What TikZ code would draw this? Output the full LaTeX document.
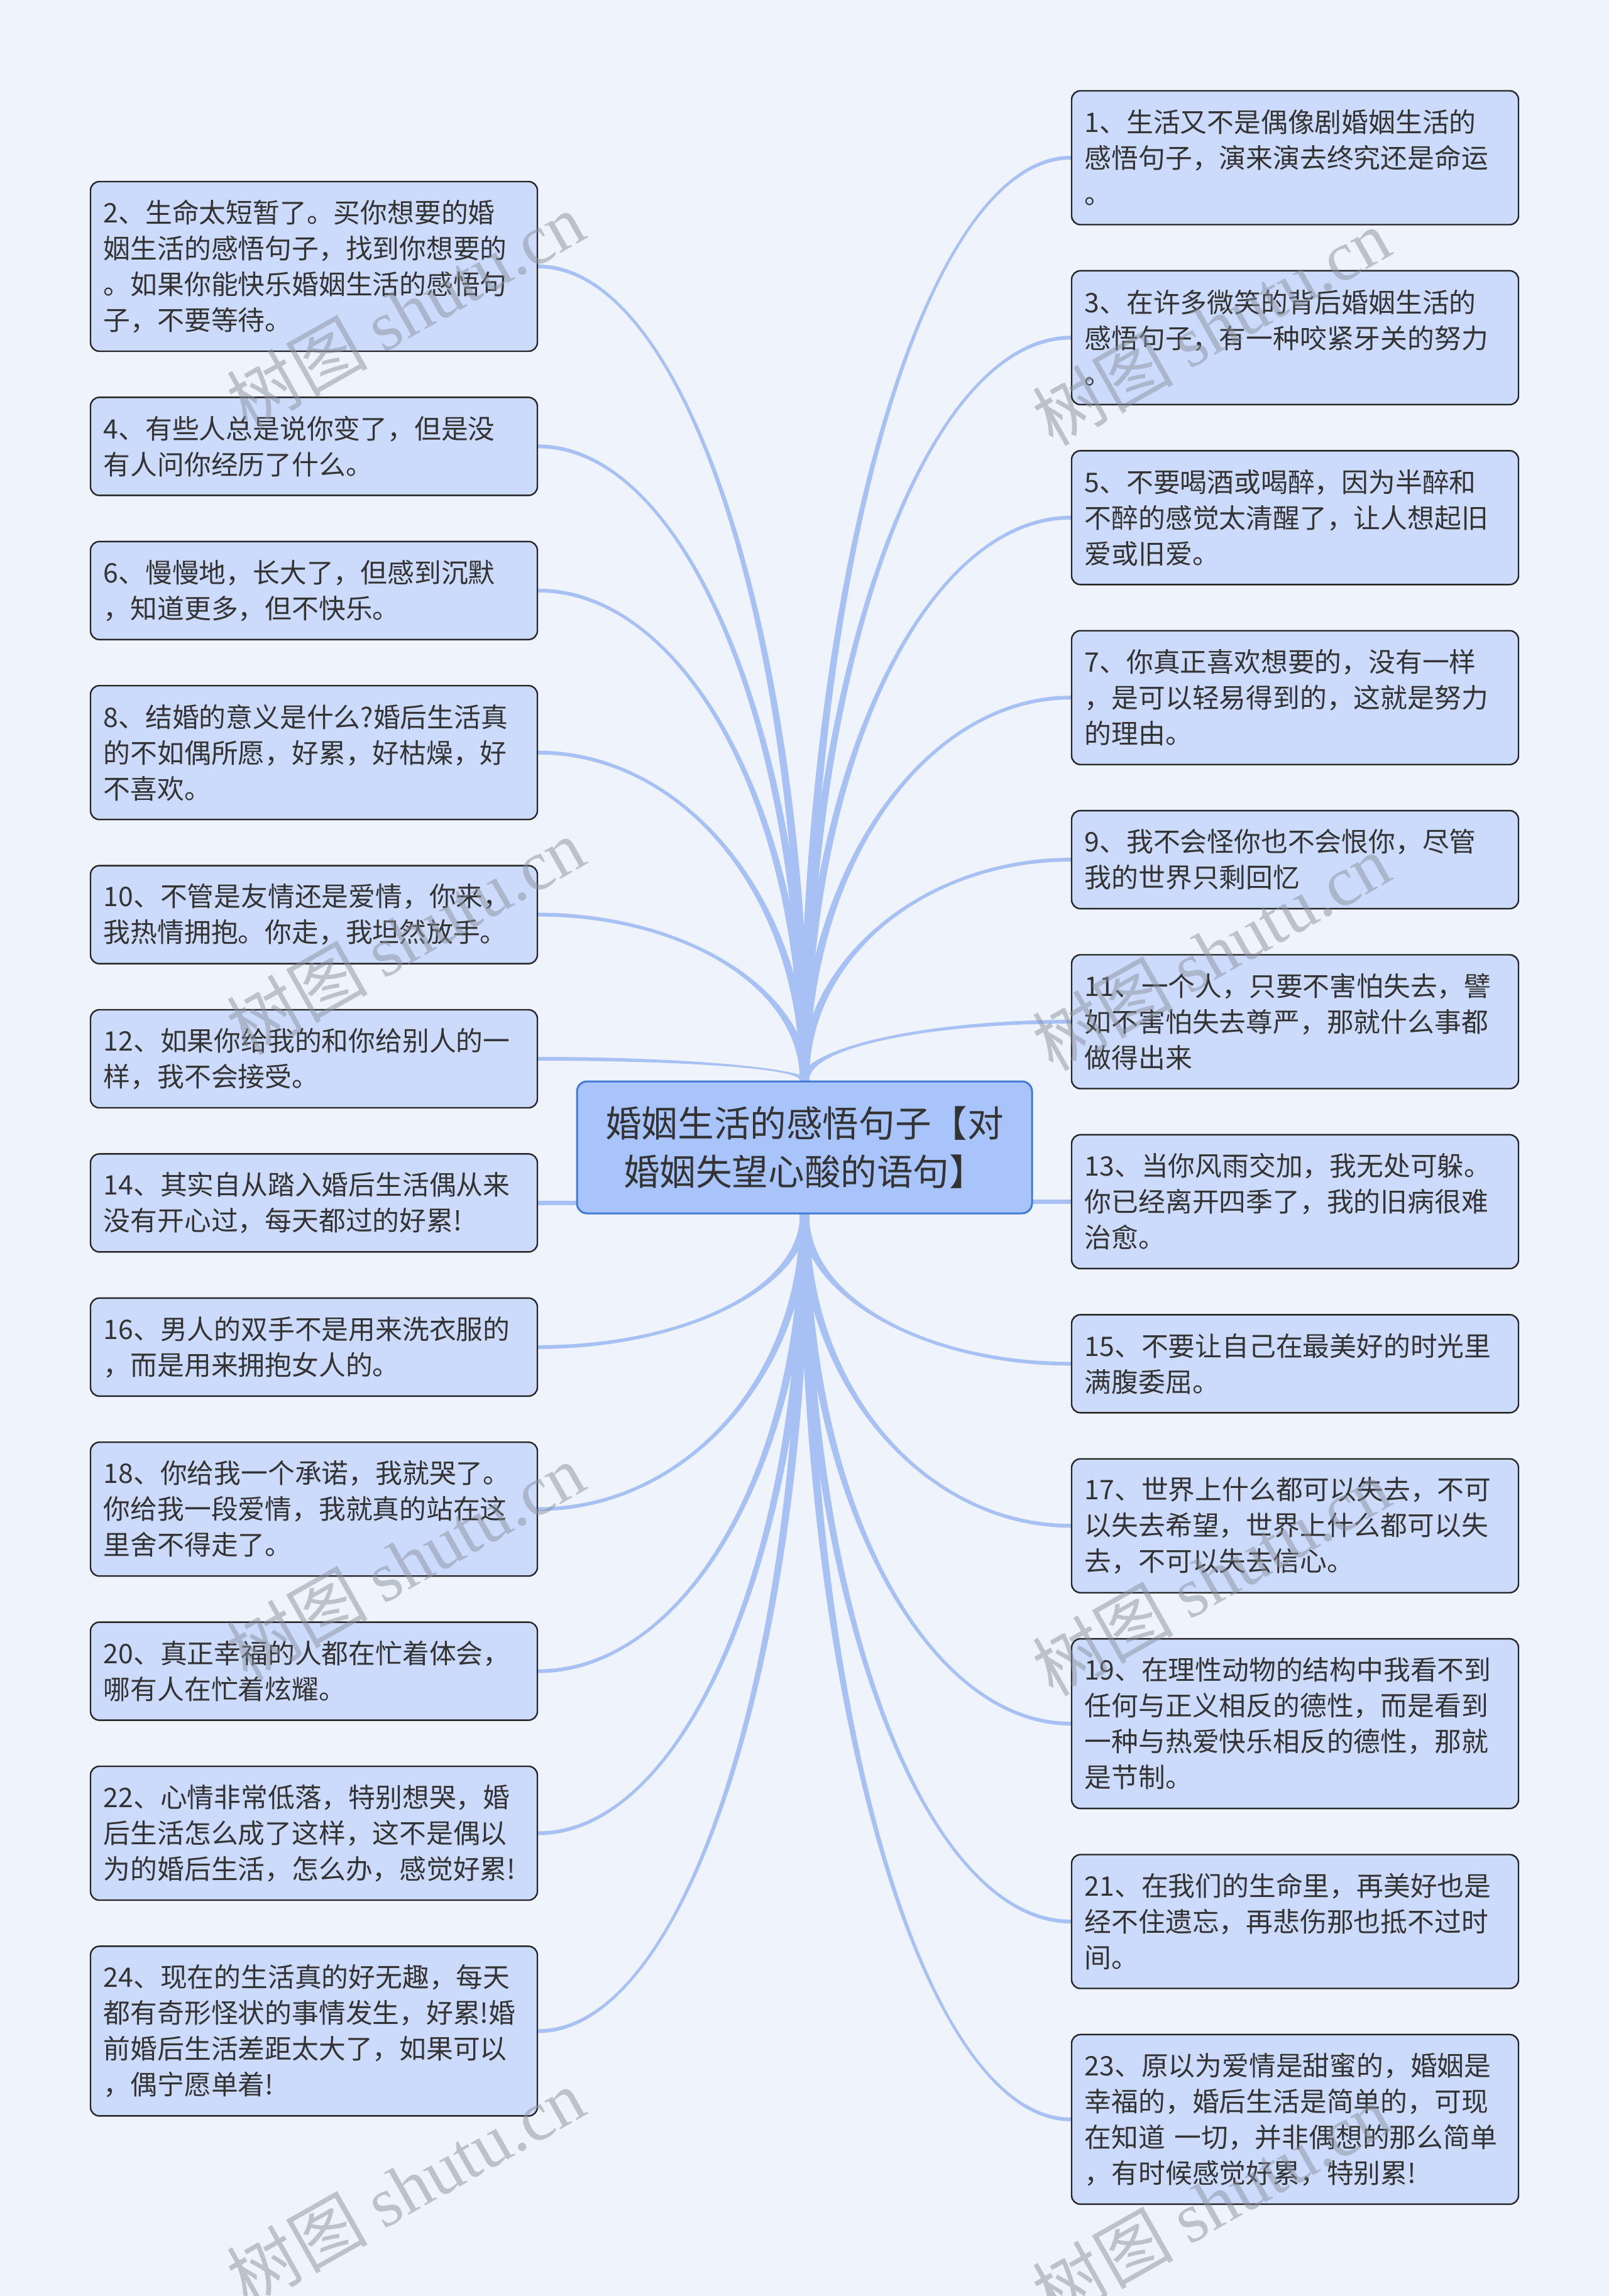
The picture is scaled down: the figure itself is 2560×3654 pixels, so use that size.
\documentclass[tikz,border=0pt]{standalone}
\usepackage{fontspec}
\setmainfont{Noto Sans CJK SC}
\newfontfamily\wmfont{Liberation Serif}
\usepackage{xcolor}
\usetikzlibrary{positioning,calc,backgrounds}
\definecolor{pagebg}{HTML}{EEF3FC}
\definecolor{leaffill}{HTML}{CCDBFB}
\definecolor{rootfill}{HTML}{A9C4FA}
\definecolor{rootline}{HTML}{3F7AD6}
\definecolor{linkc}{HTML}{A8C1F5}
\definecolor{txt}{HTML}{333333}
\definecolor{wmgray}{HTML}{8C939E}
\tikzset{
  rootbox/.style={rectangle, draw=rootline, line width=0.75pt, fill=rootfill,
                  rounded corners=4pt, minimum width=181pt, minimum height=52.5pt,
                  align=center, text=txt, font=\fontsize{14.4pt}{19.2pt}\selectfont},
  leafbox/.style={rectangle, draw=black!85, line width=0.6pt, fill=leaffill,
                  rounded corners=3.5pt, text width=167.35pt, inner xsep=5.2pt, inner ysep=2pt,
                  minimum height={#1*14.25pt+10.5pt}, align=left, text=txt,
                  font=\fontsize{10.7pt}{14.25pt}\selectfont},
  branch/.style={fill=linkc, to path={
      ($(\tikztostart)+(1.9pt,0pt)$)
      .. controls ($(\tikztostart)!0.55!(\tikztostart|-\tikztotarget)+(1.4pt,0pt)$)
      and ($(\tikztotarget)!0.55!(\tikztostart|-\tikztotarget)+(0pt,#1*0.75pt)$)
      .. ($(\tikztotarget)+(0pt,#1*0.75pt)$)
      -- ($(\tikztotarget)+(0pt,#1*-0.75pt)$)
      .. controls ($(\tikztotarget)!0.55!(\tikztostart|-\tikztotarget)+(0pt,#1*-0.75pt)$)
      and ($(\tikztostart)!0.55!(\tikztostart|-\tikztotarget)+(-1.4pt,0pt)$)
      .. ($(\tikztostart)+(-1.9pt,0pt)$) -- cycle}},
  link/.style={draw=linkc, line width=1.6pt},
  wmark/.style={rotate=29.5, inner sep=0pt, text=wmgray, text opacity=0.5,
                font=\fontsize{28pt}{30pt}\selectfont},
}

\begin{document}
\begin{tikzpicture}[x=0.25pt, y=-0.25pt, node distance=17.75pt]
  \useasboundingbox (0,0) rectangle (2560,3654);

  \node[rootbox] (root) at (1280,1826) {婚姻生活的感悟句子【对\\婚姻失望心酸的语句】};

  % right column
  \node[leafbox=3] (r1) at (2060.5,251) {1、生活又不是偶像剧婚姻生活的\\感悟句子，演来演去终究还是命运\\。};
  \node[leafbox=3, below=of r1]  (r3)  {3、在许多微笑的背后婚姻生活的\\感悟句子，有一种咬紧牙关的努力\\。};
  \node[leafbox=3, below=of r3]  (r5)  {5、不要喝酒或喝醉，因为半醉和\\不醉的感觉太清醒了，让人想起旧\\爱或旧爱。};
  \node[leafbox=3, below=of r5]  (r7)  {7、你真正喜欢想要的，没有一样\\，是可以轻易得到的，这就是努力\\的理由。};
  \node[leafbox=2, below=of r7]  (r9)  {9、我不会怪你也不会恨你，尽管\\我的世界只剩回忆};
  \node[leafbox=3, below=of r9]  (r11) {11、一个人，只要不害怕失去，譬\\如不害怕失去尊严，那就什么事都\\做得出来};
  \node[leafbox=3, below=of r11] (r13) {13、当你风雨交加，我无处可躲。\\你已经离开四季了，我的旧病很难\\治愈。};
  \node[leafbox=2, below=of r13] (r15) {15、不要让自己在最美好的时光里\\满腹委屈。};
  \node[leafbox=3, below=of r15] (r17) {17、世界上什么都可以失去，不可\\以失去希望，世界上什么都可以失\\去，不可以失去信心。};
  \node[leafbox=4, below=of r17] (r19) {19、在理性动物的结构中我看不到\\任何与正义相反的德性，而是看到\\一种与热爱快乐相反的德性，那就\\是节制。};
  \node[leafbox=3, below=of r19] (r21) {21、在我们的生命里，再美好也是\\经不住遗忘，再悲伤那也抵不过时\\间。};
  \node[leafbox=4, below=of r21] (r23) {23、原以为爱情是甜蜜的，婚姻是\\幸福的，婚后生活是简单的，可现\\在知道 一切，并非偶想的那么简单\\，有时候感觉好累，特别累!};

  % left column
  \node[leafbox=4] (l2) at (499.5,424) {2、生命太短暂了。买你想要的婚\\姻生活的感悟句子，找到你想要的\\。如果你能快乐婚姻生活的感悟句\\子，不要等待。};
  \node[leafbox=2, below=of l2]  (l4)  {4、有些人总是说你变了，但是没\\有人问你经历了什么。};
  \node[leafbox=2, below=of l4]  (l6)  {6、慢慢地，长大了，但感到沉默\\，知道更多，但不快乐。};
  \node[leafbox=3, below=of l6]  (l8)  {8、结婚的意义是什么?婚后生活真\\的不如偶所愿，好累，好枯燥，好\\不喜欢。};
  \node[leafbox=2, below=of l8]  (l10) {10、不管是友情还是爱情，你来，\\我热情拥抱。你走，我坦然放手。};
  \node[leafbox=2, below=of l10] (l12) {12、如果你给我的和你给别人的一\\样，我不会接受。};
  \node[leafbox=2, below=of l12] (l14) {14、其实自从踏入婚后生活偶从来\\没有开心过，每天都过的好累!};
  \node[leafbox=2, below=of l14] (l16) {16、男人的双手不是用来洗衣服的\\，而是用来拥抱女人的。};
  \node[leafbox=3, below=of l16] (l18) {18、你给我一个承诺，我就哭了。\\你给我一段爱情，我就真的站在这\\里舍不得走了。};
  \node[leafbox=2, below=of l18] (l20) {20、真正幸福的人都在忙着体会，\\哪有人在忙着炫耀。};
  \node[leafbox=3, below=of l20] (l22) {22、心情非常低落，特别想哭，婚\\后生活怎么成了这样，这不是偶以\\为的婚后生活，怎么办，感觉好累!};
  \node[leafbox=4, below=of l22] (l24) {24、现在的生活真的好无趣，每天\\都有奇形怪状的事情发生，好累!婚\\前婚后生活差距太大了，如果可以\\，偶宁愿单着!};

  \begin{scope}[on background layer]
    \fill[pagebg] (0,0) rectangle (2560,3654);
    % upper branches
    \fill[branch=1]  (root.north) to (l2.east);
    \fill[branch=1]  (root.north) to (l4.east);
    \fill[branch=1]  (root.north) to (l6.east);
    \fill[branch=1]  (root.north) to (l8.east);
    \fill[branch=1]  (root.north) to (l10.east);
    \fill[branch=1]  (root.north) to (l12.east);
    \fill[branch=-1] (root.north) to (r1.west);
    \fill[branch=-1] (root.north) to (r3.west);
    \fill[branch=-1] (root.north) to (r5.west);
    \fill[branch=-1] (root.north) to (r7.west);
    \fill[branch=-1] (root.north) to (r9.west);
    \fill[branch=-1] (root.north) to (r11.west);
    % middle
    \draw[link] (l14.east) -- (l14.east -| root.center);
    \draw[link] (r13.west) -- (r13.west -| root.center);
    % lower branches
    \fill[branch=-1] (root.south) to (l16.east);
    \fill[branch=-1] (root.south) to (l18.east);
    \fill[branch=-1] (root.south) to (l20.east);
    \fill[branch=-1] (root.south) to (l22.east);
    \fill[branch=-1] (root.south) to (l24.east);
    \fill[branch=1]  (root.south) to (r15.west);
    \fill[branch=1]  (root.south) to (r17.west);
    \fill[branch=1]  (root.south) to (r19.west);
    \fill[branch=1]  (root.south) to (r21.west);
    \fill[branch=1]  (root.south) to (r23.west);
  \end{scope}

  % watermarks
  \node[wmark] (wm1) at (645,494)   {树图 {\wmfont shutu.cn}};
  \node[wmark] (wm2) at (645,1490)  {树图 {\wmfont shutu.cn}};
  \node[wmark] (wm3) at (645,2485)  {树图 {\wmfont shutu.cn}};
  \node[wmark] (wm4) at (645,3480)  {树图 {\wmfont shutu.cn}};
  \node[wmark] (wm5) at (1927,520)  {树图 {\wmfont shutu.cn}};
  \node[wmark] (wm6) at (1927,1515) {树图 {\wmfont shutu.cn}};
  \node[wmark] (wm7) at (1927,2510) {树图 {\wmfont shutu.cn}};
  \node[wmark] (wm8) at (1927,3505) {树图 {\wmfont shutu.cn}};
\end{tikzpicture}
\end{document}
